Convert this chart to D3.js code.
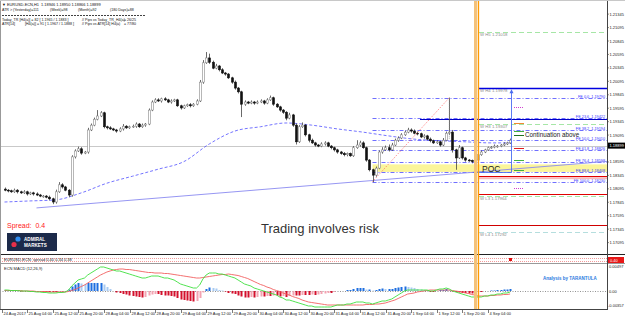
<!DOCTYPE html>
<html>
<head>
<meta charset="utf-8">
<script src="https://cdn.jsdelivr.net/npm/d3@7"></script>
<style>
  body { margin: 0; background: #fff; }
  svg { display: block; }
  text { font-family: "Liberation Sans", Arial, sans-serif; white-space: pre; }
</style>
</head>
<body>
<div id="chart"></div>
<script>
// ---- data ----
var timeLabels = ["24 Aug 2017", "25 Aug 04:00", "25 Aug 12:00", "25 Aug 20:00", "28 Aug 04:00",
  "28 Aug 12:00", "28 Aug 20:00", "29 Aug 04:00", "29 Aug 12:00", "29 Aug 20:00", "30 Aug 04:00",
  "30 Aug 12:00", "30 Aug 20:00", "31 Aug 04:00", "31 Aug 12:00", "31 Aug 20:00", "1 Sep 04:00",
  "1 Sep 12:00", "1 Sep 20:00", "4 Sep 04:00"];

var priceTicks = ["1.21345", "1.21095", "1.20845", "1.20595", "1.20345", "1.20095", "1.19845",
  "1.19595", "1.19345", "1.19095", "1.18595", "1.18345", "1.18095", "1.17845", "1.17595",
  "1.17345", "1.17095"];

var firstOpen = 1.1809;
// H1 closes, one per bar
var closes = [
  1.1807, 1.1806, 1.1804, 1.1807, 1.1804, 1.1802, 1.1804, 1.1800,
  1.1802, 1.1800, 1.1798, 1.1796, 1.1796, 1.1794, 1.1791, 1.1785,
  1.1804, 1.1817, 1.1813, 1.1807, 1.1798, 1.1869, 1.1880, 1.1884,
  1.1876, 1.1878, 1.1919, 1.1928, 1.1939, 1.1945, 1.1951, 1.1925,
  1.1923, 1.1921, 1.1919, 1.1917, 1.1921, 1.1926, 1.1923, 1.1925,
  1.1926, 1.1930, 1.1925, 1.1928, 1.1930, 1.1956, 1.1971, 1.1975,
  1.1973, 1.1977, 1.1975, 1.1971, 1.1973, 1.1975, 1.1964, 1.1960,
  1.1964, 1.1966, 1.1964, 1.1967, 1.1973, 1.2008, 1.2044, 1.2053,
  1.2045, 1.2034, 1.2038, 1.2031, 1.2025, 1.2023, 1.2016, 1.2008,
  1.1997, 1.1990, 1.1967, 1.1971, 1.1969, 1.1971, 1.1969, 1.1971,
  1.1973, 1.1969, 1.1975, 1.1979, 1.1967, 1.1962, 1.1956, 1.1952,
  1.1941, 1.1947, 1.1928, 1.1897, 1.1925, 1.1928, 1.1910, 1.1900,
  1.1895, 1.1891, 1.1889, 1.1893, 1.1895, 1.1889, 1.1886, 1.1882,
  1.1878, 1.1875, 1.1873, 1.1875, 1.1871, 1.1886, 1.1891, 1.1895,
  1.1886, 1.1863, 1.1845, 1.1835, 1.1848, 1.1878, 1.1882, 1.1886,
  1.1882, 1.1891, 1.1900, 1.1904, 1.1910, 1.1915, 1.1919, 1.1917,
  1.1913, 1.1912, 1.1906, 1.1908, 1.1902, 1.1899, 1.1895, 1.1897,
  1.1891, 1.1900, 1.1913, 1.1915, 1.1882, 1.1867, 1.1886, 1.1867,
  1.1863, 1.1862, 1.1860, 1.1863, 1.1873, 1.1878, 1.1882, 1.1886,
  1.1887, 1.1889, 1.1889, 1.1891, 1.1893, 1.1895, 1.1900];
// wick lengths in pips above / below the body
var wickUp = [
  3,2,2,3,2,2,3,2, 2,2,3,2,2,2,3,2, 4,5,3,2,2,3,3,4, 3,2,4,3,3,11,3,2,
  2,3,2,2,3,4,2,2, 3,3,2,3,2,3,3,3, 3,2,3,2,3,2,2,2, 2,2,3,2,3,4,5,11,
  8,3,4,2,3,2,2,2, 3,2,2,3,2,3,2,3, 3,2,3,4,2,2,2,2, 2,4,2,3,3,5,2,2,
  3,2,2,3,3,2,2,2, 2,2,3,2,2,3,9,4, 3,2,2,2,3,3,5,4, 6,4,3,3,3,3,4,3,
  3,3,2,3,2,3,2,3, 2,4,3,64,4,2,5,2, 2,2,2,3,3,3,2,2, 2,3,2,2,3,2,3];
var wickDn = [
  2,3,2,2,3,2,2,3, 2,3,2,2,3,2,3,4, 3,2,3,2,4,3,3,2, 3,2,3,2,2,2,2,3,
  3,2,2,3,2,3,2,2, 2,3,2,2,3,2,2,2, 2,3,2,2,3,2,2,3, 2,2,3,2,2,2,3,2,
  3,2,2,3,2,3,2,3, 3,3,24,3,2,2,3,2, 2,3,2,2,3,2,3,3, 4,2,3,5,2,2,3,4,
  2,3,2,2,3,2,3,3, 3,2,3,3,2,2,2,3, 2,3,3,13,3,2,3,2, 3,2,2,3,2,2,2,3,
  2,3,2,3,2,3,2,2, 3,2,2,3,5,22,2,3, 3,2,3,2,3,2,2,2, 2,2,3,2,2,2,2];

// blue dashed moving average, read at every 8th bar
var maBars = [0, 8, 16, 24, 32, 40, 48, 56, 64, 72, 80, 88, 96, 104, 112, 120, 128, 136, 144, 152, 158];
var maValues = [1.1785, 1.1787, 1.1789, 1.1802, 1.1820, 1.1833, 1.1846, 1.1860, 1.1893, 1.1917,
  1.1925, 1.1932, 1.1928, 1.1921, 1.1915, 1.1908, 1.1902, 1.1899, 1.1897, 1.1895, 1.1895];

// trend line anchors (bar, price)
var trendBars = [10, 148];
var trendPrices = [1.1774, 1.1841];

// Fibonacci retracement 1.1823 -> 1.1979
var fibNames = ["0.0", "23.6", "38.2", "50.0", "61.8", "76.4", "88.6", "100.0"];
var fibPrices = [1.19790, 1.19422, 1.19194, 1.19010, 1.18826, 1.18598, 1.18408, 1.18230];
var fibStartBar = 115;

// weekly camarilla levels
var pivotNames = ["H5", "H4", "H3", "L3", "L4"];
var pivotPrices = [1.21018, 1.19978, 1.19307, 1.17964, 1.17292];

var solidLevels = [1.1997, 1.1939, 1.1833, 1.1800, 1.1742];
var markerPrices = [1.1962, 1.1932, 1.1917, 1.1910, 1.1886, 1.1863, 1.1845, 1.1811];
var pocRange = [1.1841, 1.1855];

var bid = 1.18899;

// ECN MACD(12,26,9), units of 0.0001
var macdMain = [
  2,2,1,1,1,0,0,0, -1,-1,-2,-2,-3,-3,-4,-4, -4,-3,-3,-2,2,10,16,22, 24,26,32,36,40,44,48,48,
  46,44,42,40,40,38,36,34, 32,30,28,26,26,28,30,30, 30,28,26,26,24,22,18,14, 12,10,8,6,6,12,24,32,
  36,36,36,34,34,32,30,28, 26,22,18,14,12,10,6,4, 2,0,-2,-4,-6,-8,-12,-14, -18,-18,-20,-22,-24,-26,-28,-30,
  -30,-32,-32,-32,-32,-32,-32,-30, -28,-28,-28,-26,-26,-24,-22,-22, -22,-24,-24,-26,-24,-22,-20,-20,
  -18,-16,-12,-8,-4,0,2,2, 2,2,2,2,2,0,0,2, 4,4,6,4,0,-2,-4,-6, -8,-10,-12,-12,-12,-12,-10,-10,
  -8,-8,-6,-6,-4,-4,-2];
var macdSignal = [
  1,1,1,1,1,1,0,0, 0,0,-1,-1,-1,-1,-2,-2, -2,-2,-2,-2,-1,1,3,6, 9,12,16,20,24,28,32,35,
  38,40,42,43,44,44,43,43, 42,41,40,39,38,37,37,36, 36,36,35,35,34,33,32,31, 30,29,28,27,26,26,27,28,
  29,30,31,32,33,33,34,33, 32,31,29,27,25,22,19,16, 13,11,8,6,3,1,-1,-4, -6,-8,-11,-13,-15,-18,-20,-22,
  -23,-24,-25,-26,-27,-28,-28,-28, -28,-28,-28,-28,-28,-28,-28,-28, -28,-27,-27,-27,-26,-26,-25,-24,
  -22,-20,-18,-15,-12,-9,-6,-5, -4,-2,-1,0,1,2,2,2, 2,2,2,2,1,0,-1,-2, -4,-5,-7,-8,-10,-10,-10,-10,
  -9,-9,-8,-8,-7,-7,-6];

// ---- layout ----
var W = 625, H = 318;
var plotR = 607, mainTop = 2, mainBot = 254, macdTop = 264, macdBot = 309;

var svg = d3.select("#chart").append("svg").attr("width", W).attr("height", H);
svg.append("rect").attr("width", W).attr("height", H).attr("fill", "#fff");

var x = d3.scaleLinear().domain([0, 158]).range([4.5, 510.1]);
var y = d3.scaleLinear().domain([1.16920, 1.21515]).range([252, 5]);
var ym = d3.scaleLinear().domain([-36, 54]).range([macdBot, macdTop]);

svg.append("clipPath").attr("id", "clipMain").append("rect")
  .attr("x", 0).attr("y", mainTop).attr("width", plotR).attr("height", mainBot - mainTop);
svg.append("clipPath").attr("id", "clipMacd").append("rect")
  .attr("x", 0).attr("y", macdTop).attr("width", plotR).attr("height", macdBot - macdTop);

var main = svg.append("g").attr("clip-path", "url(#clipMain)");

function hline(g, yy, x1, x2, color, dash, w) {
  g.append("line").attr("x1", x1).attr("x2", x2).attr("y1", yy).attr("y2", yy)
    .attr("stroke", color).attr("stroke-width", w || 1)
    .attr("stroke-dasharray", dash || null);
}

// POC band
main.append("rect").attr("x", x(fibStartBar)).attr("width", plotR - x(fibStartBar))
  .attr("y", y(pocRange[1])).attr("height", y(pocRange[0]) - y(pocRange[1]))
  .attr("fill", "#fbf59a");

// bid line
hline(main, Math.round(y(bid)) + 0.5, 0, plotR, "#c9c9c9", null, 1);

// fib levels
fibPrices.forEach(function (p, i) {
  var yy = Math.round(y(p)) + 0.5;
  hline(main, yy, x(fibStartBar), plotR, "#4b4bff", "4,2,1,2", 0.8);
  main.append("text").attr("x", 605).attr("y", yy - 0.8).attr("text-anchor", "end")
    .attr("font-size", 3.8).attr("fill", "#3535ff")
    .text("FE " + fibNames[i] + "  " + p.toFixed(5));
});

// camarilla levels
pivotPrices.forEach(function (p, i) {
  var yy = Math.round(y(p)) + 0.5;
  hline(main, yy, 479, plotR, i == 4 ? "#b5dede" : "#a6e6a6", "5,3", 1);
  main.append("text").attr("x", 480).attr("y", yy + 3.5)
    .attr("font-size", 4.3).attr("fill", "#8a8a8a")
    .text("W " + pivotNames[i] + " " + p.toFixed(5));
});

// solid horizontal objects
var solidColors = ["#0000e0", "#0000c8", "#e00000", "#e00000", "#d00000"];
solidLevels.forEach(function (p, i) {
  var x1 = i == 1 ? 420 : 479;
  hline(main, Math.round(y(p)) + 0.5, x1, plotR, solidColors[i], null, i == 0 ? 1.5 : 1.2);
});
main.append("rect").attr("x", 479).attr("width", plotR - 479)
  .attr("y", y(solidLevels[2]) + 1).attr("height", 2).attr("fill", "#f7b9b9");

// small pivot markers
var markerColors = ["#d040d0", "#f08a30", "#40b040", "#207020", "#e02020", "#40b040", "#40b040", "#d040d0"];
markerPrices.forEach(function (p, i) {
  hline(main, Math.round(y(p)) + 0.5, 514, 524, markerColors[i],
    (i == 0 || i == 7) ? "1,1" : null, 1);
});

// trend line, extended to the right edge
var slope = (trendPrices[1] - trendPrices[0]) / (trendBars[1] - trendBars[0]);
var endBar = x.invert(plotR);
main.append("line")
  .attr("x1", x(trendBars[0])).attr("y1", y(trendPrices[0]))
  .attr("x2", plotR).attr("y2", y(trendPrices[0] + slope * (endBar - trendBars[0])))
  .attr("stroke", "#8a8af0").attr("stroke-width", 0.9);

// moving average
var ma = d3.line().x(function (d, i) { return x(maBars[i]); })
  .y(function (d) { return y(d); }).curve(d3.curveMonotoneX);
main.append("path").attr("d", ma(maValues)).attr("fill", "none")
  .attr("stroke", "#5050ff").attr("stroke-width", 0.8).attr("stroke-dasharray", "3,2");

// candles
var bars = closes.map(function (c, i) {
  var o = i == 0 ? firstOpen : closes[i - 1];
  return {
    i: i, o: o, c: c,
    h: Math.max(o, c) + wickUp[i] * 0.0001,
    l: Math.min(o, c) - wickDn[i] * 0.0001
  };
});
var cg = main.append("g");
cg.selectAll("line.wick").data(bars).enter().append("line")
  .attr("x1", function (d) { return Math.round(x(d.i)) + 0.5; })
  .attr("x2", function (d) { return Math.round(x(d.i)) + 0.5; })
  .attr("y1", function (d) { return y(d.h); })
  .attr("y2", function (d) { return y(d.l); })
  .attr("stroke", "#444").attr("stroke-width", 0.8);
cg.selectAll("rect.body").data(bars).enter().append("rect")
  .attr("x", function (d) { return Math.round(x(d.i)) - 0.5; })
  .attr("width", 2)
  .attr("y", function (d) { return y(Math.max(d.o, d.c)); })
  .attr("height", function (d) { return Math.max(0.8, Math.abs(y(d.o) - y(d.c))); })
  .attr("fill", function (d) { return d.c >= d.o ? "#fff" : "#111"; })
  .attr("stroke", function (d) { return d.c >= d.o ? "#888" : "#111"; })
  .attr("stroke-width", 0.6);

// fib diagonal and anchor
main.append("line").attr("x1", x(fibStartBar)).attr("y1", y(fibPrices[7]))
  .attr("x2", x(139)).attr("y2", y(fibPrices[0]))
  .attr("stroke", "#ff5050").attr("stroke-width", 0.8).attr("stroke-dasharray", "1,1.5");
main.append("line").attr("x1", x(139)).attr("x2", x(139))
  .attr("y1", y(fibPrices[0])).attr("y2", y(fibPrices[3]))
  .attr("stroke", "#888").attr("stroke-width", 0.7).attr("stroke-dasharray", "1,1");

// target arrow
var arrowX = 511.5;
main.append("line").attr("x1", 473).attr("x2", arrowX)
  .attr("y1", y(1.1840)).attr("y2", y(1.1840)).attr("stroke", "#4a6cf0").attr("stroke-width", 0.9);
main.append("line").attr("x1", arrowX).attr("x2", arrowX)
  .attr("y1", y(1.1840)).attr("y2", y(1.1995) + 2).attr("stroke", "#4a6cf0").attr("stroke-width", 0.9);
main.append("path")
  .attr("d", "M" + (arrowX - 2) + "," + (y(1.1995) + 4) + "L" + arrowX + "," + y(1.1995) + "L" + (arrowX + 2) + "," + (y(1.1995) + 4) + "Z")
  .attr("fill", "#4a6cf0");

// texts on the chart
main.append("text").attr("x", 525).attr("y", 136.5).attr("font-size", 6.3).attr("fill", "#222")
  .text("Continuation above");
main.append("text").attr("x", 482).attr("y", 172).attr("font-size", 8.5).attr("fill", "#222")
  .text("POC");
main.append("text").attr("x", 320).attr("y", 233).attr("text-anchor", "middle")
  .attr("font-size", 13).attr("fill", "#333").text("Trading involves risk");
main.append("text").attr("x", 7).attr("y", 228).attr("font-size", 7).attr("fill", "#ff1a1a")
  .text("Spread:  0.4");

// logo
var logo = main.append("g");
logo.append("rect").attr("x", 7).attr("y", 233).attr("width", 50).attr("height", 18).attr("fill", "#1c2a4a");
logo.append("circle").attr("cx", 18).attr("cy", 239).attr("r", 2.6).attr("fill", "#2e8cf0");
logo.append("circle").attr("cx", 14).attr("cy", 244.5).attr("r", 2.6).attr("fill", "#e8304a");
logo.append("text").attr("x", 24).attr("y", 241).attr("font-size", 4.6).attr("font-weight", "bold")
  .attr("fill", "#fff").text("ADMIRAL");
logo.append("text").attr("x", 24).attr("y", 246.5).attr("font-size", 4.6).attr("font-weight", "bold")
  .attr("fill", "#fff").text("MARKETS");

// header info
var hdr = svg.append("g").attr("font-size", 3.6).attr("fill", "#111");
hdr.append("text").attr("x", 2).attr("y", 6).attr("font-size", 3.9)
  .text("\u25BC EURUSD-ECN,H1  1.18946 1.18950 1.18866 1.18899");
hdr.append("text").attr("x", 2).attr("y", 11).text("ATR > (Yesterday)=111");
hdr.append("text").attr("x", 50).attr("y", 11).text("(Week)=98");
hdr.append("text").attr("x", 78).attr("y", 11).text("(Month)=92");
hdr.append("text").attr("x", 110).attr("y", 11).text("(180 Days)=88");
hdr.append("line").attr("x1", 2).attr("x2", 145).attr("y1", 15.5).attr("y2", 15.5)
  .attr("stroke", "#111").attr("stroke-width", 0.8).attr("stroke-dasharray", "2,1");
hdr.append("text").attr("x", 2).attr("y", 20.5).text("Today_TR [H4(a)] = 82 [ 1.1965 / 1.1883 ]");
hdr.append("text").attr("x", 82).attr("y", 20.5).text("// Pips vs Today_TR_H4(a)");
hdr.append("text").attr("x", 124).attr("y", 20.5).text("= 26/25");
hdr.append("text").attr("x", 2).attr("y", 25).text("ATR[14]");
hdr.append("text").attr("x", 25).attr("y", 25).text("[H4(a)] = 91 [ 1.1967 / 1.1888 ]");
hdr.append("text").attr("x", 82).attr("y", 25).text("// Pips vs ATR[14] H4(a)");
hdr.append("text").attr("x", 124).attr("y", 25).text("= 77/80");

// ---- spread window ----
hline(svg, 254.5, 0, W, "#222", null, 1);
hline(svg, 258.5, 0, plotR, "#f08080", "1,1", 0.8);
hline(svg, 261.5, 0, plotR, "#f08080", "1,1", 0.8);
hline(svg, 263.5, 0, W, "#999", null, 1);
svg.append("text").attr("x", 4).attr("y", 260.5).attr("font-size", 4).attr("fill", "#222")
  .text("EURUSD-ECN: spread 0.40 0.34 0.38");
svg.append("rect").attr("x", 509).attr("y", 258).attr("width", 3).attr("height", 3).attr("fill", "#e01010");
svg.append("rect").attr("x", 608).attr("y", 257).attr("width", 16).attr("height", 6).attr("fill", "#e81818");
svg.append("text").attr("x", 610).attr("y", 261.8).attr("font-size", 4).attr("fill", "#fff").text("0.40");

// ---- MACD window ----
var mg = svg.append("g").attr("clip-path", "url(#clipMacd)");
hline(mg, Math.round(ym(0)) + 0.5, 0, plotR, "#777", "1,1.5", 0.8);
var hist = macdMain.map(function (m, i) { return m - macdSignal[i]; });
mg.selectAll("rect.h").data(hist).enter().append("rect")
  .attr("x", function (d, i) { return Math.round(x(i)) - 0.5; })
  .attr("width", 2)
  .attr("y", function (d) { return d >= 0 ? ym(d) : ym(0); })
  .attr("height", function (d) { return Math.abs(ym(d) - ym(0)); })
  .attr("fill", function (d, i) {
    var prev = i ? hist[i - 1] : 0;
    if (d >= 0) return d >= prev ? "#1e6fe0" : "#a9cbf2";
    return d <= prev ? "#d4102c" : "#f3a3b2";
  });
var ml = d3.line().x(function (d, i) { return x(i); }).y(function (d) { return ym(d); });
mg.append("path").attr("d", ml(macdSignal)).attr("fill", "none").attr("stroke", "#f26060").attr("stroke-width", 0.9);
mg.append("path").attr("d", ml(macdMain)).attr("fill", "none").attr("stroke", "#3ee03e").attr("stroke-width", 0.9);
svg.append("text").attr("x", 4).attr("y", 270).attr("font-size", 4).attr("fill", "#222")
  .text("ECN MACD (12,26,9)");
svg.append("text").attr("x", 543).attr("y", 280).attr("font-size", 4.5).attr("font-weight", "bold")
  .attr("fill", "#2a78e0").text("Analysis by TARANTULA");

// orange session lines
svg.append("rect").attr("x", 474).attr("y", 0).attr("width", 3.2).attr("height", macdBot)
  .attr("fill", "#f4c27a");
svg.append("line").attr("x1", 478.5).attr("x2", 478.5).attr("y1", 0).attr("y2", macdBot)
  .attr("stroke", "#ff9a00").attr("stroke-width", 1.3);

// ---- axes ----
hline(svg, macdBot + 0.5, 0, plotR + 1, "#444", null, 1);
svg.append("line").attr("x1", plotR + 0.5).attr("x2", plotR + 0.5).attr("y1", 0).attr("y2", macdBot + 1)
  .attr("stroke", "#444").attr("stroke-width", 1);
svg.append("line").attr("x1", 0.5).attr("x2", 0.5).attr("y1", 0).attr("y2", macdBot)
  .attr("stroke", "#999").attr("stroke-width", 1);
hline(svg, 0.5, 0, W, "#c8c8c8", null, 1);

var tg = svg.append("g").attr("font-size", 4).attr("fill", "#222");
timeLabels.forEach(function (t, k) {
  var tx = Math.round(x(k * 8)) - 2.5;
  tg.append("line").attr("x1", tx).attr("x2", tx).attr("y1", macdBot).attr("y2", macdBot + 4)
    .attr("stroke", "#444").attr("stroke-width", 0.7);
  tg.append("text").attr("x", tx + 1).attr("y", 315).text(t);
});

var pg = svg.append("g").attr("font-size", 4).attr("fill", "#222");
priceTicks.forEach(function (t) {
  var ty = y(+t);
  pg.append("line").attr("x1", plotR).attr("x2", plotR + 2).attr("y1", ty).attr("y2", ty)
    .attr("stroke", "#444").attr("stroke-width", 0.6);
  pg.append("text").attr("x", 609.5).attr("y", ty + 1.5).text(t);
});
svg.append("rect").attr("x", 608).attr("y", y(bid) - 3).attr("width", 17).attr("height", 6).attr("fill", "#000");
svg.append("text").attr("x", 609.5).attr("y", y(bid) + 1.5).attr("font-size", 4).attr("fill", "#fff")
  .text(bid.toFixed(5));

var mt = svg.append("g").attr("font-size", 4).attr("fill", "#222");
mt.append("text").attr("x", 609).attr("y", 267.5).text("0.00497");
mt.append("text").attr("x", 609).attr("y", ym(0) + 1.5).text("0.00");
mt.append("text").attr("x", 608).attr("y", 307).text("-0.00357");
</script>
</body>
</html>
